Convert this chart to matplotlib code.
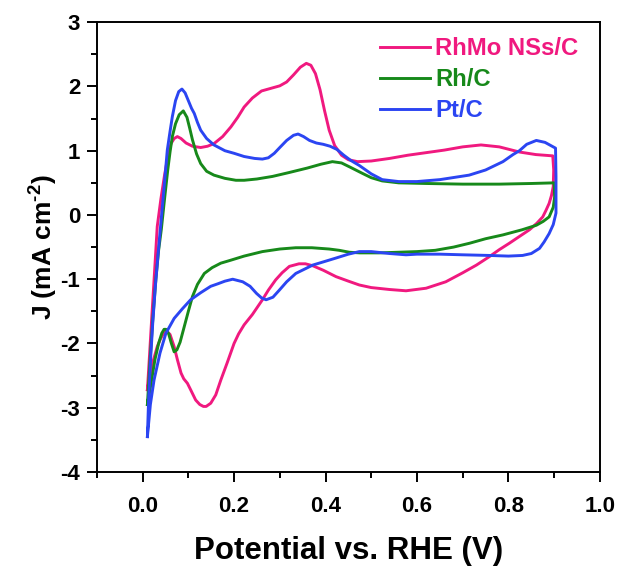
import matplotlib
matplotlib.use("Agg")
import matplotlib.pyplot as plt
from matplotlib.ticker import MultipleLocator, FormatStrFormatter

plt.rcParams['font.family'] = ['Liberation Sans', 'DejaVu Sans']
plt.rcParams['font.weight'] = 'bold'
plt.rcParams['axes.unicode_minus'] = False
plt.rcParams['mathtext.fontset'] = 'custom'
plt.rcParams['mathtext.rm'] = 'Liberation Sans:bold'
plt.rcParams['mathtext.it'] = 'Liberation Sans:bold'
plt.rcParams['mathtext.bf'] = 'Liberation Sans:bold'
plt.rcParams['mathtext.default'] = 'regular'

# ---- cyclic voltammograms: potential (V vs. RHE) and current density (mA cm^-2)
labels = ["RhMo NSs/C", "Rh/C", "Pt/C"]
colors = ["#F0197F", "#17891A", "#2B45F2"]

rhmo_E = [0.0105, 0.015, 0.020, 0.026, 0.032, 0.040, 0.048, 0.055, 0.062, 0.069,
          0.076, 0.084, 0.095, 0.109, 0.127, 0.142, 0.156, 0.175, 0.193, 0.208,
          0.222, 0.240, 0.260, 0.280, 0.300, 0.315, 0.330, 0.345, 0.358, 0.368,
          0.378, 0.388, 0.398, 0.408, 0.420, 0.435, 0.450, 0.470, 0.500, 0.540,
          0.580, 0.620, 0.660, 0.700, 0.740, 0.780, 0.824, 0.860, 0.897,
          0.899, 0.898, 0.894, 0.889, 0.882, 0.875, 0.862, 0.846, 0.825, 0.802,
          0.780, 0.758, 0.730, 0.700, 0.663, 0.620, 0.576, 0.540, 0.500, 0.474,
          0.450, 0.423, 0.395, 0.372, 0.356, 0.342, 0.321, 0.305, 0.291, 0.275,
          0.262, 0.240, 0.222, 0.210, 0.200, 0.185, 0.171, 0.160, 0.149, 0.139,
          0.133, 0.125, 0.116, 0.105, 0.098, 0.090, 0.084, 0.076, 0.069, 0.060,
          0.053, 0.046, 0.039, 0.032, 0.024, 0.017, 0.0105]
rhmo_J = [-2.72, -2.20, -1.60, -0.90, -0.18, 0.25, 0.62, 0.90, 1.11, 1.19,
          1.22, 1.19, 1.12, 1.07, 1.05, 1.07, 1.11, 1.22, 1.37, 1.52,
          1.68, 1.82, 1.93, 1.97, 2.01, 2.07, 2.18, 2.30, 2.36, 2.33,
          2.20, 1.95, 1.62, 1.32, 1.08, 0.93, 0.86, 0.83, 0.84, 0.88,
          0.93, 0.97, 1.01, 1.06, 1.09, 1.06, 0.98, 0.94, 0.92,
          0.70, 0.44, 0.30, 0.18, 0.07, -0.03, -0.13, -0.23, -0.33, -0.44,
          -0.54, -0.65, -0.78, -0.90, -1.04, -1.14, -1.18, -1.16, -1.13, -1.09,
          -1.03, -0.96, -0.86, -0.79, -0.76, -0.76, -0.80, -0.90, -1.01, -1.17,
          -1.32, -1.55, -1.71, -1.85, -2.00, -2.30, -2.57, -2.80, -2.93, -2.98,
          -2.98, -2.95, -2.88, -2.72, -2.62, -2.55, -2.46, -2.25, -2.05, -1.86,
          -1.81, -1.84, -1.93, -2.05, -2.25, -2.47, -2.72]

rh_E = [0.0105, 0.016, 0.022, 0.029, 0.035, 0.041, 0.048, 0.055, 0.060, 0.065,
        0.072, 0.080, 0.089, 0.097, 0.103, 0.109, 0.118, 0.127, 0.140, 0.156,
        0.180, 0.204, 0.222, 0.250, 0.284, 0.320, 0.360, 0.390, 0.415, 0.435,
        0.455, 0.480, 0.500, 0.524, 0.560, 0.620, 0.700, 0.780, 0.850, 0.900,
        0.901, 0.898, 0.889, 0.876, 0.861, 0.830, 0.788, 0.750, 0.715, 0.680,
        0.640, 0.600, 0.560, 0.517, 0.475, 0.452, 0.430, 0.408, 0.370, 0.335,
        0.300, 0.262, 0.222, 0.190, 0.171, 0.152, 0.135, 0.120, 0.109, 0.100,
        0.091, 0.082, 0.075, 0.069, 0.063, 0.057, 0.051, 0.047, 0.042, 0.035,
        0.027, 0.019, 0.0105]
rh_J = [-2.95, -2.30, -1.65, -1.00, -0.55, -0.22, 0.25, 0.70, 0.98, 1.22,
        1.42, 1.56, 1.62, 1.52, 1.35, 1.17, 0.95, 0.80, 0.68, 0.62,
        0.57, 0.54, 0.54, 0.56, 0.60, 0.66, 0.73, 0.79, 0.83, 0.81,
        0.74, 0.65, 0.58, 0.53, 0.50, 0.49, 0.48, 0.48, 0.49, 0.50,
        0.28, 0.12, -0.03, -0.10, -0.16, -0.23, -0.31, -0.37, -0.44, -0.50,
        -0.55, -0.57, -0.58, -0.59, -0.59, -0.58, -0.55, -0.53, -0.51, -0.51,
        -0.53, -0.57, -0.64, -0.71, -0.75, -0.82, -0.91, -1.08, -1.27, -1.50,
        -1.74, -1.98, -2.10, -2.13, -2.00, -1.85, -1.78, -1.78, -1.84, -2.00,
        -2.25, -2.60, -2.95]

pt_E = [0.0105, 0.013, 0.017, 0.022, 0.028, 0.034, 0.039, 0.046, 0.054, 0.060,
        0.065, 0.072, 0.079, 0.086, 0.093, 0.100, 0.107, 0.113, 0.120, 0.127,
        0.140, 0.156, 0.180, 0.200, 0.222, 0.245, 0.262, 0.275, 0.288, 0.300,
        0.315, 0.330, 0.340, 0.352, 0.365, 0.380, 0.395, 0.410, 0.425, 0.440,
        0.455, 0.474, 0.500, 0.524, 0.560, 0.600, 0.650, 0.714, 0.750, 0.788,
        0.810, 0.824, 0.840, 0.861, 0.880, 0.903,
        0.904, 0.904, 0.898, 0.889, 0.878, 0.868, 0.850, 0.831, 0.800, 0.758,
        0.700, 0.650, 0.600, 0.576, 0.540, 0.500, 0.474, 0.450, 0.423, 0.400,
        0.372, 0.355, 0.335, 0.315, 0.299, 0.285, 0.270, 0.260, 0.249, 0.235,
        0.219, 0.197, 0.180, 0.165, 0.149, 0.127, 0.105, 0.087, 0.069, 0.051,
        0.038, 0.025, 0.017, 0.0105]
pt_J = [-3.45, -2.90, -2.30, -1.70, -1.10, -0.60, -0.20, 0.35, 1.01, 1.30,
        1.53, 1.78, 1.92, 1.96, 1.90, 1.78, 1.66, 1.58, 1.44, 1.32,
        1.19, 1.09, 1.00, 0.96, 0.91, 0.88, 0.87, 0.89, 0.96, 1.05,
        1.16, 1.24, 1.26, 1.22, 1.16, 1.12, 1.10, 1.07, 1.02, 0.93,
        0.85, 0.77, 0.64, 0.55, 0.52, 0.52, 0.55, 0.62, 0.70, 0.83,
        0.94, 1.00, 1.10, 1.16, 1.13, 1.04,
        0.60, 0.03, -0.15, -0.29, -0.42, -0.52, -0.60, -0.63, -0.64, -0.63,
        -0.62, -0.61, -0.61, -0.62, -0.60, -0.57, -0.57, -0.61, -0.67, -0.72,
        -0.78, -0.84, -0.91, -1.04, -1.17, -1.28, -1.32, -1.29, -1.22, -1.11,
        -1.04, -1.00, -1.03, -1.07, -1.11, -1.21, -1.32, -1.46, -1.61, -1.84,
        -2.15, -2.57, -2.95, -3.45]

x_ticks = [0.0, 0.2, 0.4, 0.6, 0.8, 1.0]
y_ticks = [-4, -3, -2, -1, 0, 1, 2, 3]

fig = plt.figure(figsize=(6.21, 5.70), dpi=100)
ax = fig.add_axes([0.156, 0.172, 0.81, 0.789])

for E, J, lab, col in zip([rhmo_E, rh_E, pt_E], [rhmo_J, rh_J, pt_J], labels, colors):
    ax.plot(E, J, color=col, lw=2.1, label=lab, solid_joinstyle='round')

ax.set_xlim(-0.1, 1.0)
ax.set_ylim(-4, 3)
ax.set_xticks(x_ticks)
ax.set_yticks(y_ticks)
ax.xaxis.set_major_formatter(FormatStrFormatter('%.1f'))
ax.xaxis.set_minor_locator(MultipleLocator(0.1))
ax.yaxis.set_minor_locator(MultipleLocator(0.5))
ax.tick_params(which='both', direction='out', top=False, right=False, width=1.4,
               labelsize=16)
ax.tick_params(which='major', length=7)
ax.tick_params(axis='x', which='major', pad=10)
ax.tick_params(axis='y', which='major', pad=5)
ax.tick_params(which='minor', length=4)
for s in ax.spines.values():
    s.set_linewidth(1.4)

ax.set_xlabel('Potential vs. RHE (V)', fontsize=22.5, fontweight='bold', labelpad=14)
ax.set_ylabel(r'J (mA cm$^{\text{-}2}$)', fontsize=19, fontweight='bold', labelpad=0)

leg = ax.legend(loc='upper right', bbox_to_anchor=(1.0, 1.015), frameon=False,
                handlelength=2.1, handletextpad=0.2, labelspacing=0.34,
                prop={'weight': 'bold', 'size': 17.2}, labelcolor='linecolor')

fig.savefig('out.png', dpi=100, facecolor='white')
